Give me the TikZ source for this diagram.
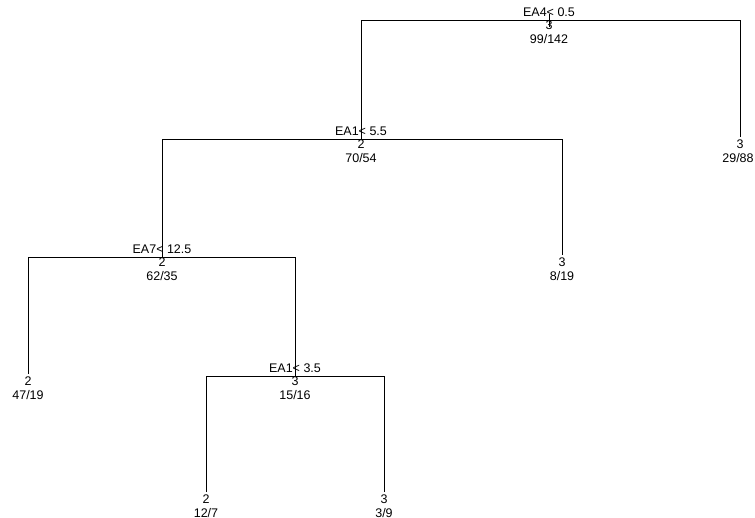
\documentclass[tikz,border=0pt]{standalone}
\usepackage{fontspec}
\setmainfont{Liberation Sans}
\usetikzlibrary{positioning}

\begin{document}
\begin{tikzpicture}[x=1pt,y=-1pt,
  branch/.style={draw=black,line width=0.8pt},
  txt/.style={font=\fontsize{12.5}{13}\selectfont,inner sep=0pt,anchor=base},
  rule/.style={txt,yshift=4pt},
  cls/.style={txt,yshift=-9pt},
  cnt/.style={txt,yshift=-23pt}]

  \useasboundingbox (0,0) rectangle (755,517);

  % split and leaf positions
  \coordinate (s1) at (549,20);
  \coordinate (s2) at (361,139);
  \coordinate (l1) at (740,139);
  \coordinate (s3) at (162,257);
  \coordinate (l2) at (562,257);
  \coordinate (l3) at (28,376);
  \coordinate (s4) at (295,376);
  \coordinate (l4) at (206,494);
  \coordinate (l5) at (384,494);

  % branches
  \draw[branch] ([yshift=6pt]s1) -- ([yshift=-7pt]s1);
  \draw[branch] (s2) |- (s1);
  \draw[branch] ([yshift=2pt]l1) |- (s1);
  \draw[branch] (s3) |- (s2);
  \draw[branch] ([yshift=2pt]l2) |- (s2);
  \draw[branch] ([yshift=2pt]l3) |- (s3);
  \draw[branch] (s4) |- (s3);
  \draw[branch] ([yshift=2pt]l4) |- (s4);
  \draw[branch] ([yshift=2pt]l5) |- (s4);

  % split labels
  \node[rule] (s1r) at (s1) {EA4\textless{} 0.5};
  \node[cls]  (s1c) at (s1) {3};
  \node[cnt]  (s1n) at (s1) {99/142};
  \node[rule] (s2r) at (s2) {EA1\textless{} 5.5};
  \node[cls]  (s2c) at (s2) {2};
  \node[cnt]  (s2n) at (s2) {70/54};
  \node[rule] (s3r) at (s3) {EA7\textless{} 12.5};
  \node[cls]  (s3c) at (s3) {2};
  \node[cnt]  (s3n) at (s3) {62/35};
  \node[rule] (s4r) at (s4) {EA1\textless{} 3.5};
  \node[cls]  (s4c) at (s4) {3};
  \node[cnt]  (s4n) at (s4) {15/16};

  % leaves
  \node[cls] (l1c) at (l1) {3};
  \node[cnt] (l1n) at ([xshift=-2pt]l1) {29/88};
  \node[cls] (l2c) at (l2) {3};
  \node[cnt] (l2n) at (l2) {8/19};
  \node[cls] (l3c) at (l3) {2};
  \node[cnt] (l3n) at (l3) {47/19};
  \node[cls] (l4c) at (l4) {2};
  \node[cnt] (l4n) at (l4) {12/7};
  \node[cls] (l5c) at (l5) {3};
  \node[cnt] (l5n) at (l5) {3/9};
\end{tikzpicture}
\end{document}
